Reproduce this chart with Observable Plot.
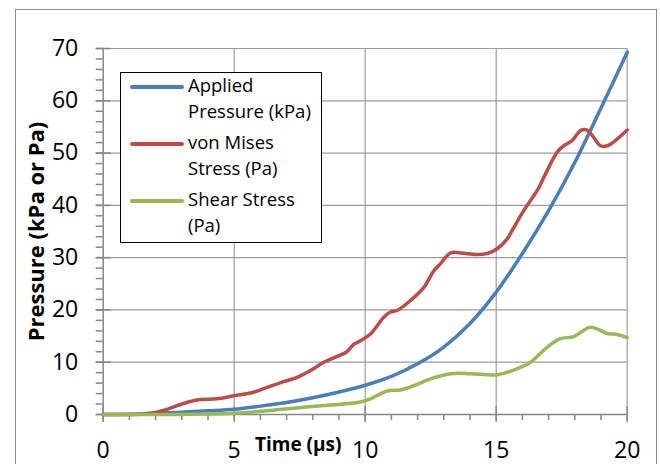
<!DOCTYPE html>
<html><head><meta charset="utf-8">
<script src="https://cdn.jsdelivr.net/npm/d3@7"></script>
<script src="https://cdn.jsdelivr.net/npm/@observablehq/plot@0.6"></script>
<style>
body{margin:0;background:#fff;}
#wrap{position:relative;width:660px;height:464px;overflow:hidden;font-family:"Open Sans",sans-serif;}
#frame{position:absolute;left:15px;top:9px;width:642px;height:480px;border:1.5px solid #8a8a8a;box-sizing:border-box;pointer-events:none;}
#legend{position:absolute;left:120px;top:72px;width:202px;height:171px;border:1.5px solid #000;background:#fff;box-sizing:border-box;}
.item{position:absolute;left:0;}
.sw{position:absolute;left:9px;width:54px;height:4px;border-radius:2px;}
.lab{position:absolute;left:67px;font-size:18.5px;line-height:26px;white-space:nowrap;color:#000;}
</style>
</head><body>
<div id="wrap"><div id="frame"></div></div>
<script>
// ---- data ----
const seriesNames = ["Applied Pressure (kPa)", "von Mises Stress (Pa)", "Shear Stress (Pa)"];
const legendLines = [["Applied", "Pressure (kPa)"], ["von Mises", "Stress (Pa)"], ["Shear Stress", "(Pa)"]];
const seriesColors = ["#4A7EBB", "#BE4B48", "#98B954"];

const tApplied = [0,1,2,3,4,5,6,7,8,9,10,11,12,13,14,15,16,17,18,19,20];
const applied  = [0,0.05,0.2,0.45,0.7,1.0,1.6,2.3,3.2,4.3,5.6,7.3,9.7,12.9,17.4,23.4,30.8,39.0,48.2,58.6,69.3];

const tVonMises = [0,1,1.5,2.0,2.3,2.82,3.33,3.71,4.35,4.99,5.62,6.26,6.89,7.4,7.91,8.42,8.93,9.3,9.56,9.82,10.2,10.71,10.97,11.22,11.73,12.24,12.62,12.87,13.26,13.64,14.27,14.66,15.04,15.42,15.62,16.05,16.56,16.95,17.33,17.58,17.9,18.22,18.47,18.72,18.98,19.24,19.62,20];
const vonMises  = [0,0,0.1,0.4,0.76,1.7,2.5,2.87,3.0,3.6,4.1,5.2,6.3,7.1,8.4,10.0,11.1,12.0,13.4,14.1,15.4,18.6,19.6,19.9,21.8,24.3,27.5,28.8,30.9,30.9,30.6,30.8,31.7,33.6,35.3,39.0,42.8,46.7,50.2,51.4,52.4,54.3,54.4,53.0,51.4,51.4,52.7,54.4];

const tShear = [0,2,4,5,6,7.02,8.42,9.56,9.9,10.2,10.84,11.35,11.85,12.49,13.26,14.02,15.04,15.67,16.31,16.95,17.45,17.96,18.6,19.24,19.62,20];
const shear  = [0,0,0.1,0.25,0.6,1.1,1.7,2.2,2.5,3.0,4.5,4.7,5.5,6.8,7.8,7.8,7.6,8.5,10.0,12.9,14.5,14.9,16.7,15.5,15.3,14.7];

const xMajor = [0,5,10,15,20];
const xMinor = d3.range(0, 21, 1);
const yMajor = [0,10,20,30,40,50,60,70];
const yMinor = d3.range(0, 71, 2);

// ---- table ----
const rows = [];
[[tApplied, applied], [tVonMises, vonMises], [tShear, shear]].forEach(([ts, vs], i) => {
  ts.forEach((t, j) => rows.push({t, v: vs[j], s: seriesNames[i]}));
});

const axisColor = "#868686";
const chart = Plot.plot({
  width: 660, height: 464,
  marginLeft: 102.7, marginRight: 33.3, marginTop: 48, marginBottom: 50,
  x: {domain: [0, 20]},
  y: {domain: [0, 70]},
  color: {domain: seriesNames, range: seriesColors},
  style: {fontFamily: "Open Sans, sans-serif", fontSize: "23px", color: "#000", background: "transparent", overflow: "visible"},
  marks: [
    Plot.gridX(xMajor.slice(1), {stroke: "#8c8c8c", strokeOpacity: 0.85, strokeWidth: 1.2}),
    Plot.gridY(yMajor.slice(1), {stroke: "#8c8c8c", strokeOpacity: 0.85, strokeWidth: 1.2}),
    Plot.ruleY([0], {stroke: axisColor, strokeWidth: 1.5}),
    Plot.ruleX([0], {stroke: axisColor, strokeWidth: 1.5}),
    Plot.axisX({ticks: xMinor, tickSize: 6, tickFormat: () => "", stroke: axisColor, strokeWidth: 1.5, label: null}),
    Plot.axisX({ticks: xMajor, tickSize: 16, dy: -8, tickFormat: () => "", stroke: axisColor, strokeWidth: 1.5, label: null}),
    Plot.axisX({ticks: xMajor, tickSize: 0, tickPadding: 27, fontSize: 23, label: null}),
    Plot.axisY({ticks: yMinor, tickSize: 7, tickFormat: () => "", stroke: axisColor, strokeWidth: 1.5, label: null}),
    Plot.axisY({ticks: yMajor, tickSize: 15, dx: 8, tickFormat: () => "", stroke: axisColor, strokeWidth: 1.5, label: null}),
    Plot.axisY({ticks: yMajor, tickSize: 0, tickPadding: 25, fontSize: 23, label: null}),
    Plot.line(rows, {x: "t", y: "v", z: "s", stroke: "s", strokeWidth: 3.5, curve: "catmull-rom"}),
    Plot.text(["Time (µs)"], {frameAnchor: "bottom-left", dx: 195, dy: 36, text: d => d, fontWeight: "bold", fontSize: 19, textAnchor: "middle"}),
    Plot.text(["Pressure (kPa or Pa)"], {frameAnchor: "left", dx: -66, text: d => d, rotate: -90, fontWeight: "bold", fontSize: 22, textAnchor: "middle"})
  ]
});
const wrap = document.getElementById("wrap");
chart.style.position = "absolute";
chart.style.left = "0";
chart.style.top = "0";
wrap.insertBefore(chart, wrap.firstChild);

// legend
const lg = document.createElement("div");
lg.id = "legend";
const tops = [0, 57, 114];
legendLines.forEach((lines, i) => {
  const sw = document.createElement("div");
  sw.className = "sw";
  sw.style.top = (tops[i] + 12) + "px";
  sw.style.background = seriesColors[i];
  lg.appendChild(sw);
  const lab = document.createElement("div");
  lab.className = "lab";
  lab.style.top = (tops[i] - 1) + "px";
  lab.innerHTML = lines.join("<br>");
  lg.appendChild(lab);
});
wrap.appendChild(lg);
</script>
</body></html>
